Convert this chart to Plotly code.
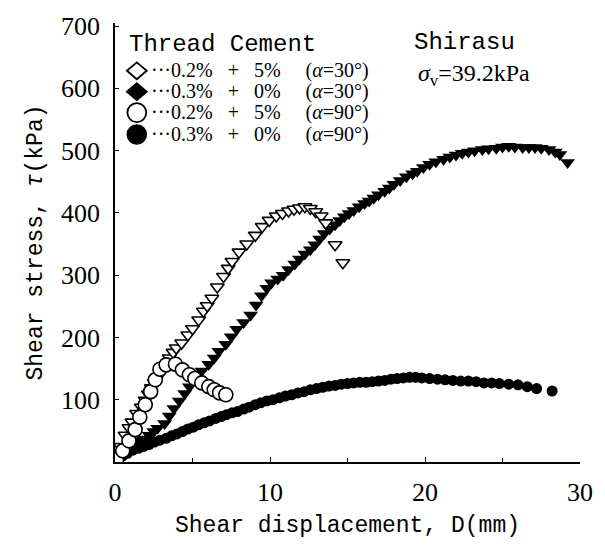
import plotly.graph_objects as go

# Shear displacement D (mm) and shear stress tau (kPa) for each specimen
# 0.2% thread + 5% cement, alpha = 30 deg
d_a = [0.0, 0.35, 0.65, 0.9, 1.1, 1.4, 1.7, 1.95, 2.15, 2.35, 2.55, 2.75, 2.95, 3.2,
       3.5, 3.75, 3.95, 4.3, 4.7, 5.0, 5.4, 5.7, 5.95, 6.25, 6.6, 7.0, 7.3, 7.55, 8.0,
       8.5, 9.05, 9.5, 9.95, 10.4, 10.8, 11.2, 11.55, 11.9, 12.25, 12.6, 12.95, 13.3,
       13.6, 14.2, 14.7]
t_a = [10, 25, 43, 55, 64, 78, 88, 99, 109, 119, 127, 136, 144, 154,
       167, 176, 183, 191, 204, 214, 228, 242, 251, 263, 281, 298, 311, 322, 337,
       350, 364, 378, 388, 395, 399, 403, 406, 408, 410, 407, 402, 395,
       384, 349, 320]

# 0.3% thread + 0% cement, alpha = 30 deg
d_b = [0.0, 0.3, 0.7, 1.15, 1.5, 1.8, 2.2, 2.5, 2.75, 3.2, 3.5, 3.8, 4.15, 4.5, 4.8,
       5.2, 5.6, 6.05, 6.4, 6.7, 7.15, 7.5, 7.85, 8.3, 8.75, 9.1, 9.45, 9.8, 10.1,
       10.5, 10.85, 11.2, 11.6, 11.9, 12.25, 12.6, 12.9, 13.2, 13.5, 13.85, 14.2,
       14.5, 14.8, 15.1, 15.4, 15.75, 16.1, 16.4, 16.7, 17.0, 17.4, 17.7, 18.0, 18.4,
       18.8, 19.2, 19.5, 19.9, 20.3, 20.7, 21.2, 21.6, 22.0, 22.4, 22.8, 23.2, 23.7,
       24.1, 24.6, 25.0, 25.4, 25.8, 26.3, 26.7, 27.1, 27.5, 28.0, 28.4, 28.7, 29.2]
t_b = [5, 15, 24, 30, 34, 37, 43, 49, 54, 62, 74, 86, 98, 110, 121,
       133, 146, 157, 167, 178, 189, 201, 213, 224, 236, 252, 267, 279, 288,
       294, 300, 309, 318, 326, 334, 341, 349, 358, 367, 374, 381,
       388, 394, 399, 404, 410, 415, 419, 424, 429, 435, 440, 446, 452,
       458, 463, 467, 473, 478, 482, 486, 490, 493, 496, 498, 500, 502,
       503, 504, 506, 507, 506, 505, 505, 505, 504, 502, 498, 494, 481]

# 0.2% thread + 5% cement, alpha = 90 deg
d_c = [0.1, 0.5, 0.9, 1.3, 1.6, 1.95, 2.3, 2.6, 2.9, 3.3, 3.9, 4.35, 4.8, 5.15,
       5.6, 6.05, 6.4, 6.75, 7.15]
t_c = [4, 18, 34, 52, 72, 92, 113, 132, 149, 156, 157, 148, 140, 134,
       127, 121, 116, 111, 108]

# 0.3% thread + 0% cement, alpha = 90 deg
d_d = [0.0, 0.2, 0.5, 0.8, 1.15, 1.5, 1.85, 2.2, 2.55, 2.9, 3.3, 3.65, 4.0, 4.35,
       4.7, 5.05, 5.4, 5.75, 6.1, 6.5, 6.85, 7.2, 7.55, 7.9, 8.3, 8.65, 9.05, 9.4,
       9.8, 10.2, 10.6, 11.0, 11.4, 11.8, 12.2, 12.6, 13.0, 13.4, 13.8, 14.2, 14.6,
       15.0, 15.4, 15.8, 16.2, 16.6, 17.0, 17.4, 17.8, 18.2, 18.6, 19.0, 19.4, 19.8,
       20.3, 20.8, 21.3, 21.8, 22.3, 22.8, 23.3, 23.8, 24.3, 24.8, 25.4, 26.0, 26.6,
       27.2, 28.2]
t_d = [2, 6, 10, 14, 19, 22, 25, 28, 32, 35, 38, 42, 45, 49,
       53, 56, 60, 63, 66, 70, 73, 76, 79, 81, 85, 88, 92, 95,
       98, 100, 103, 106, 108, 111, 113, 116, 118, 120, 122, 123, 125,
       126, 127, 128, 128, 129, 130, 131, 133, 134, 135, 136, 136, 135,
       134, 133, 132, 131, 130, 130, 129, 127, 127, 126, 125, 124, 121,
       118, 114]

x_ticks = [0, 10, 20, 30]
y_ticks = [100, 200, 300, 400, 500, 600, 700]

# Legend rows: glyph shape, glyph fill, thread, cement, angle
leg_shape = ["diamond", "diamond", "circle", "circle"]
leg_fill = ["white", "black", "white", "black"]
leg_thread = ["0.2%", "0.3%", "0.2%", "0.3%"]
leg_cement = ["5%", "0%", "5%", "0%"]
leg_angle = ["30", "30", "90", "90"]

DIGITS = "Liberation Serif, Times New Roman, serif"
MONO = "Liberation Mono, DejaVu Sans Mono, monospace"
NB = "\u00a0"

# Plot-area pixel geometry (used to place legend text and glyphs in paper units)
W, H = 605, 548
ML, MR, MT, MB = 115, 21, 21, 86
PW, PH = W - ML - MR, H - MT - MB


def px(x):
    return (x - ML) / PW


def py(y):
    return (H - MB - y) / PH


fig = go.Figure()

fig.add_trace(go.Scatter(
    x=d_d, y=t_d, mode="markers", showlegend=False,
    marker=dict(symbol="circle", size=11, color="black", line=dict(width=0))))
fig.add_trace(go.Scatter(
    x=d_b, y=t_b, mode="markers", showlegend=False,
    marker=dict(symbol="triangle-down", size=13, color="black", line=dict(width=0))))
fig.add_trace(go.Scatter(
    x=d_a, y=t_a, mode="markers", showlegend=False,
    marker=dict(symbol="triangle-down", size=12, color="white",
                line=dict(width=1.6, color="black"))))
fig.add_trace(go.Scatter(
    x=d_c, y=t_c, mode="markers", showlegend=False,
    marker=dict(symbol="circle", size=14, color="white",
                line=dict(width=1.6, color="black"))))

ann = []
shapes = []
ann.append(dict(text="Thread Cement", x=px(127), y=py(43), xanchor="left", yanchor="middle",
                font=dict(family=MONO, size=24, color="black")))
row_y = [69, 90, 111, 133]
gx = 137
for i in range(4):
    cy = row_y[i]
    if leg_shape[i] == "diamond":
        path = "M {},{} L {},{} L {},{} L {},{} Z".format(
            px(gx - 10), py(cy), px(gx), py(cy - 8.5), px(gx + 10), py(cy), px(gx), py(cy + 8.5))
        shapes.append(dict(type="path", path=path, xref="paper", yref="paper",
                           fillcolor=leg_fill[i], line=dict(color="black", width=1.8)))
    else:
        shapes.append(dict(type="circle", xref="paper", yref="paper",
                           x0=px(gx - 9.5), x1=px(gx + 9.5), y0=py(cy + 9.5), y1=py(cy - 9.5),
                           fillcolor=leg_fill[i], line=dict(color="black", width=1.8)))
    row_text = ("\u00b7\u00b7\u00b7" + leg_thread[i] + NB * 3 + "+" + NB * 3 + leg_cement[i]
                + NB * 5 + "(<i>\u03b1</i>=" + leg_angle[i] + "\u00b0)")
    ann.append(dict(text=row_text, x=px(149), y=py(cy), xanchor="left", yanchor="middle",
                    font=dict(family=DIGITS, size=20, color="black")))

ann.append(dict(text="Shirasu", x=px(415), y=py(41), xanchor="left", yanchor="middle",
                font=dict(family=MONO, size=24, color="black")))
ann.append(dict(text="<i>\u03c3</i><sub>v</sub>=39.2kPa", x=px(419), y=py(73),
                xanchor="left", yanchor="middle",
                font=dict(family=DIGITS, size=24, color="black")))

for a in ann:
    a.update(xref="paper", yref="paper", showarrow=False)

fig.update_layout(
    width=W, height=H,
    margin=dict(l=ML, r=MR, t=MT, b=MB),
    paper_bgcolor="white", plot_bgcolor="white",
    showlegend=False,
    annotations=ann,
    shapes=shapes,
    xaxis=dict(
        range=[0, 30], tickvals=x_ticks, ticktext=[str(v) for v in x_ticks],
        showgrid=False, zeroline=False, showline=True, linecolor="black", linewidth=1.5,
        ticks="inside", ticklen=5, tickcolor="black",
        minor=dict(ticks="inside", ticklen=4, dtick=5, tickcolor="black"),
        tickfont=dict(family=DIGITS, size=26, color="black"),
        ticklabelstandoff=6,
        title=dict(text="Shear displacement, D(mm)", standoff=10,
                   font=dict(family=MONO, size=23, color="black")),
    ),
    yaxis=dict(
        range=[0, 705], tickvals=y_ticks, ticktext=[str(v) for v in y_ticks],
        showgrid=False, zeroline=False, showline=True, linecolor="black", linewidth=1.5,
        ticks="inside", ticklen=4, tickcolor="black",
        tickfont=dict(family=DIGITS, size=26, color="black"),
        ticklabelstandoff=8,
        title=dict(text="Shear stress, <i>\u03c4</i>(kPa)", standoff=12,
                   font=dict(family=MONO, size=23, color="black")),
    ),
)

fig.write_html("out.html")
